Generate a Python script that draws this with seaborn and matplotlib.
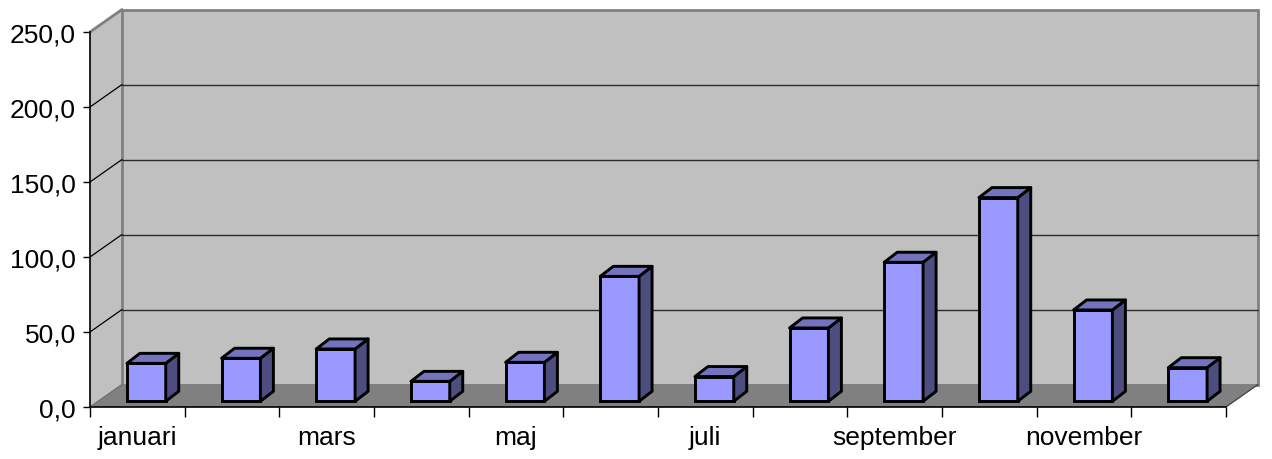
import numpy as np
import pandas as pd
import matplotlib
matplotlib.use("Agg")
import matplotlib.pyplot as plt
from matplotlib.patches import Polygon
from matplotlib.ticker import FuncFormatter, FixedLocator
import seaborn as sns

# data
months = ["januari", "februari", "mars", "april", "maj", "juni",
          "juli", "augusti", "september", "oktober", "november", "december"]
values = [25.3, 28.7, 34.9, 13.3, 26.0, 83.3, 16.5, 48.9, 92.7, 135.8, 60.9, 22.4]
shown_labels = ["januari", "", "mars", "", "maj", "", "juli", "", "september", "", "november", ""]
y_ticks = [0, 50, 100, 150, 200, 250]

sns.set_theme(style="white")
plt.rcParams["font.family"] = ["Liberation Sans", "DejaVu Sans"]

W, H = 1272, 460
fig = plt.figure(figsize=(W / 100, H / 100), dpi=100)
ax = fig.add_axes([90 / W, 52 / H, 1136 / W, 375 / H])
ax.patch.set_visible(False)

df = pd.DataFrame({"month": months, "value": values})
sns.barplot(data=df, x="month", y="value", color="#9999ff", saturation=1,
            width=0.41, edgecolor="black", linewidth=2.1, zorder=5, ax=ax)

n = len(months)
ymax = y_ticks[-1]
ax.set_xlim(-0.5, n - 0.5)
ax.set_ylim(0, ymax)

# pixel -> data conversion for the fake 3d depth
px_x = n / 1136.0
px_y = ymax / 375.0
wall_dx, wall_dy = 32 * px_x, 22.5 * px_y     # depth of the whole box
front_dx, front_dy = 9 * px_x, 5.7 * px_y     # where bar front sits
bar_dx, bar_dy = 13 * px_x, 10 * px_y         # bar depth

x0, x1 = -0.5, n - 0.5

def poly(pts, **kw):
    p = Polygon(pts, closed=True, clip_on=False, **kw)
    ax.add_patch(p)
    return p

# walls and floor
poly([(x0, 0), (x0, ymax), (x0 + wall_dx, ymax + wall_dy), (x0 + wall_dx, wall_dy)],
     facecolor="#c0c0c0", edgecolor="none", zorder=0.5)
poly([(x0 + wall_dx, wall_dy), (x1 + wall_dx, wall_dy), (x1 + wall_dx, ymax + wall_dy),
      (x0 + wall_dx, ymax + wall_dy)],
     facecolor="#c0c0c0", edgecolor="#808080", linewidth=2, zorder=0.6)
poly([(x0, 0), (x1, 0), (x1 + wall_dx, wall_dy), (x0 + wall_dx, wall_dy)],
     facecolor="#808080", edgecolor="none", zorder=1)

for t in y_ticks[1:-1]:
    ax.plot([x0 + wall_dx, x1 + wall_dx], [t + wall_dy, t + wall_dy], color="#2b2b2b",
            lw=1, zorder=0.8, clip_on=False)
    ax.plot([x0, x0 + wall_dx], [t, t + wall_dy], color="black", lw=0.9, zorder=0.8, clip_on=False)
ax.plot([x0, x0 + wall_dx], [ymax, ymax + wall_dy], color="#808080", lw=2, zorder=0.8, clip_on=False)
ax.plot([x0, x0 + wall_dx], [0, wall_dy], color="#707070", lw=1, zorder=1.1, clip_on=False)
ax.plot([x1, x1 + wall_dx], [0, wall_dy], color="#404040", lw=0.9, zorder=1.1, clip_on=False)

# turn the flat bars into boxes
for p in list(ax.patches):
    if not hasattr(p, "get_width") or p.get_zorder() != 5:
        continue
    p.set_x(p.get_x() + front_dx)
    p.set_y(front_dy)
    bx, bw, bh = p.get_x(), p.get_width(), p.get_height()
    top = front_dy + bh
    poly([(bx + bw, front_dy), (bx + bw + bar_dx, front_dy + bar_dy),
          (bx + bw + bar_dx, top + bar_dy), (bx + bw, top)],
         facecolor="#4d4d80", edgecolor="black", linewidth=2.1, joinstyle="round", zorder=5)
    poly([(bx, top), (bx + bw, top), (bx + bw + bar_dx, top + bar_dy), (bx + bar_dx, top + bar_dy)],
         facecolor="#7373bf", edgecolor="black", linewidth=2.1, joinstyle="round", zorder=5)

# axes styling
for s in ["top", "right"]:
    ax.spines[s].set_visible(False)
for s in ["left", "bottom"]:
    ax.spines[s].set_color("black")
    ax.spines[s].set_linewidth(1.2)
    ax.spines[s].set_zorder(6)

ax.set_yticks(y_ticks)
ax.yaxis.set_major_formatter(FuncFormatter(lambda v, _: f"{v:.1f}".replace(".", ",")))
ax.tick_params(axis="y", which="major", left=True, length=5, width=1, color="black",
               pad=5, labelsize=19, labelcolor="black")

ax.set_xticks(range(n))
ax.set_xticklabels(shown_labels)
ax.xaxis.set_minor_locator(FixedLocator(np.arange(-0.5, n, 1.0)))
ax.tick_params(axis="x", which="major", bottom=True, length=0, pad=13, labelsize=19,
               labelcolor="black")
ax.tick_params(axis="x", which="minor", bottom=True, length=7, width=1, color="black")
ax.set_xlabel("")
ax.set_ylabel("")

fig.savefig("out.png", dpi=100, facecolor="white")
